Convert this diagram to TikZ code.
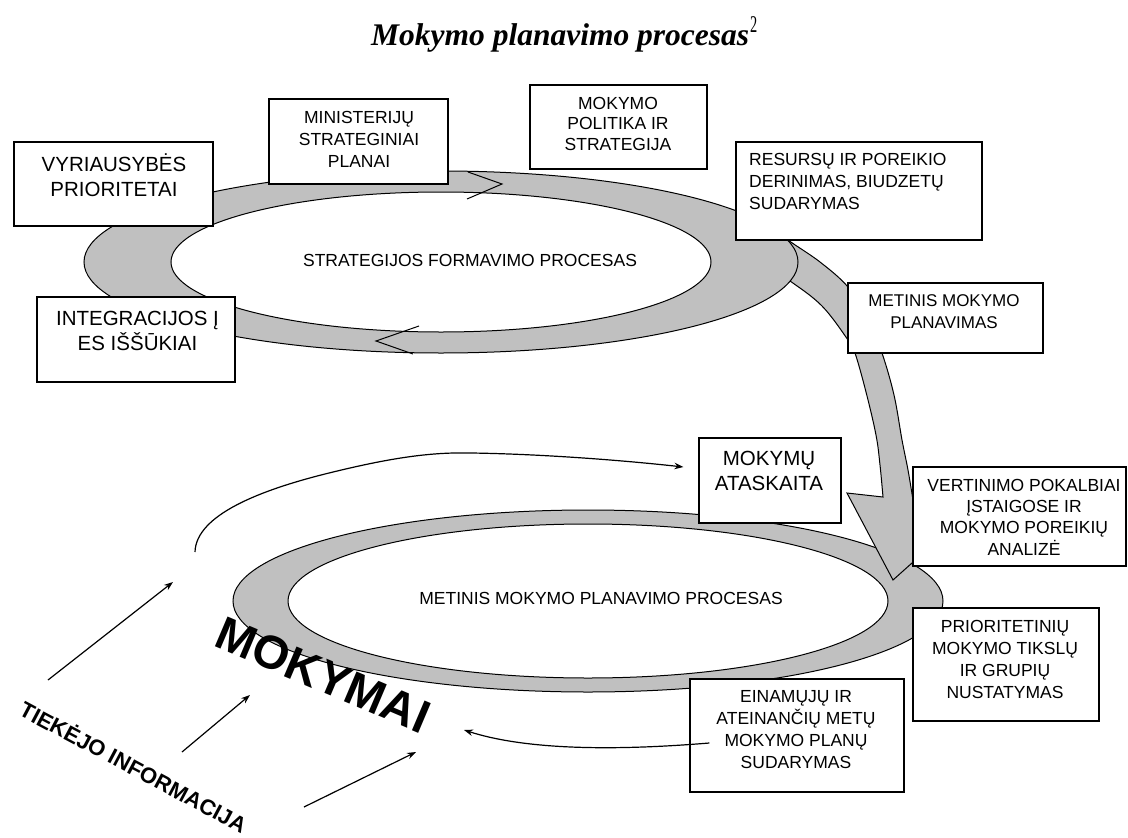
\documentclass[tikz,border=0pt]{standalone}
\usepackage{fontspec}
\setmainfont{Liberation Sans}
\newfontfamily\titlefont{Liberation Serif}
\usetikzlibrary{arrows.meta,calc}

\definecolor{ringgray}{RGB}{192,192,192}

\begin{document}
\begin{tikzpicture}[x=1pt,y=-1pt,
  box/.style={draw=black, line width=1.2pt, fill=white, inner sep=0pt, rectangle},
  lbl/.style={inner sep=0pt, align=center, font=\fontsize{17.5}{22}\selectfont},
  biglbl/.style={inner sep=0pt, align=center, font=\fontsize{20.5}{25.5}\selectfont},
  ring/.style={fill=ringgray, draw=black, line width=1pt, even odd rule},
  link/.style={draw=black, line width=1.2pt, -{Stealth[length=9pt,width=6.5pt]}},
]
% canvas
\fill[white] (0,0) rectangle (1128,838);
\useasboundingbox (0,0) rectangle (1128,838);

% title
\node[anchor=base west, inner sep=0pt, font=\titlefont\bfseries\itshape\fontsize{31.5}{31.5}\selectfont]
  (title) at (371,45) {Mokymo planavimo procesas\hspace{1pt}\raisebox{13pt}{\scalebox{0.6}[1]{\fontsize{24}{24}\selectfont\mdseries\upshape 2}}};

% lower ring: annual planning cycle
\path[ring] (588,601) ellipse [x radius=355pt, y radius=91pt]
            (588,601) ellipse [x radius=300pt, y radius=77pt];

% broad arrow from the strategy ring down to the annual ring
\draw[fill=ringgray, line width=1pt, line join=miter]
  plot[smooth, tension=0.6] coordinates {(770,225) (788,240) (820,262) (848,287) (868,318) (882,353) (894,395) (902,440) (908,470) (913,500)}
  -- (960,520) -- (893,580) -- (847,493)
  -- plot[smooth, tension=0.6] coordinates {(883,497) (880,465) (876,435) (866,392) (855,353) (848,340) (822,306) (790,281) (760,262)}
  -- cycle;

% upper ring: strategy formation cycle
\path[ring] (441,262) ellipse [x radius=357pt, y radius=91pt]
            (441,262) ellipse [x radius=270pt, y radius=70pt];
\draw[line width=1pt] (468,172) -- (502,184) -- (467,199);
\draw[line width=1pt] (419,326) -- (376,341) -- (413,354);

% boxes
\node[box, minimum width=199pt, minimum height=84pt] (vyr) at (113.5,184) {};
\node[biglbl] (vyrT) at (114,175) {VYRIAUSYBĖS\\PRIORITETAI};

\node[box, minimum width=179pt, minimum height=85pt] (min) at (358.5,141.5) {};
\node[lbl] (minT) at (359,139) {MINISTERIJŲ\\STRATEGINIAI\\PLANAI};

\node[box, minimum width=177pt, minimum height=84pt] (pol) at (618.5,127) {};
\node[lbl, font=\fontsize{17.5}{20.5}\selectfont] (polT) at (618,123.5) {MOKYMO\\POLITIKA IR\\STRATEGIJA};

\node[box, minimum width=246pt, minimum height=98pt] (res) at (859,191) {};
\node[lbl, align=left, anchor=west] (resT) at (749,181) {RESURSŲ IR POREIKIO\\DERINIMAS, BIUDZETŲ\\SUDARYMAS};

\node[box, minimum width=198pt, minimum height=85pt] (int) at (136,339.5) {};
\node[biglbl, font=\fontsize{20.5}{25}\selectfont] (intT) at (137.5,330.5) {INTEGRACIJOS Į\\ES IŠŠŪKIAI};

\node[box, minimum width=195pt, minimum height=70pt] (met) at (945.5,318) {};
\node[lbl, font=\fontsize{17}{22}\selectfont] (metT) at (944,312) {METINIS MOKYMO\\PLANAVIMAS};

\node[box, minimum width=142pt, minimum height=85pt] (mok) at (770,480.5) {};
\node[biglbl, font=\fontsize{20.5}{25}\selectfont] (mokT) at (769,470.5) {MOKYMŲ\\ATASKAITA};

\node[box, minimum width=213pt, minimum height=99pt] (ver) at (1019.5,516.5) {};
\node[lbl, font=\fontsize{17.5}{21.3}\selectfont] (verT) at (1024,517) {VERTINIMO POKALBIAI\\ĮSTAIGOSE IR\\MOKYMO POREIKIŲ\\ANALIZĖ};

\node[box, minimum width=186pt, minimum height=113pt] (pri) at (1006,664.5) {};
\node[lbl] (priT) at (1005,659) {PRIORITETINIŲ\\MOKYMO TIKSLŲ\\IR GRUPIŲ\\NUSTATYMAS};

\node[box, minimum width=214pt, minimum height=113pt] (ein) at (797,735.5) {};
\node[lbl] (einT) at (796,730) {EINAMŲJŲ IR\\ATEINANČIŲ METŲ\\MOKYMO PLANŲ\\SUDARYMAS};

% ring captions
\node[lbl] (strat) at (470,260) {STRATEGIJOS FORMAVIMO PROCESAS};
\node[lbl] (metproc) at (601,598) {METINIS MOKYMO PLANAVIMO PROCESAS};

% large slanted words
\node[inner sep=0pt, rotate=-23, font=\bfseries\fontsize{47}{47}\selectfont] (mokymai) at (323,675) {MOKYMAI};
\node[inner sep=0pt, rotate=-28, font=\bfseries\fontsize{22}{22}\selectfont] (tiek) at (134,766) {TIEKĖJO INFORMACIJA};

% connectors
\coordinate (a1s) at (48,680);   \coordinate (a1e) at (173,582);
\coordinate (a2s) at (182,752);  \coordinate (a2e) at (250,695);
\coordinate (a3s) at (304,807);  \coordinate (a3e) at (416,752);
\draw[link] (a1s) -- (a1e);
\draw[link] (a2s) -- (a2e);
\draw[link] (a3s) -- (a3e);

\coordinate (repS) at (195,552);
\coordinate (repE) at ($(mok.west)+(-15,-13.5)$);
\draw[link] (repS) .. controls (196,515) and (260,490) .. (329,473)
            .. controls (390,458) and (430,452) .. (471,453)
            .. controls (540,454) and (620,460) .. (repE);

\coordinate (einS) at ($(ein.west)+(20,7.5)$);
\coordinate (mokE) at (464,730);
\draw[link] (einS) .. controls (600,752) and (520,748) .. (mokE);
\end{tikzpicture}
\end{document}
